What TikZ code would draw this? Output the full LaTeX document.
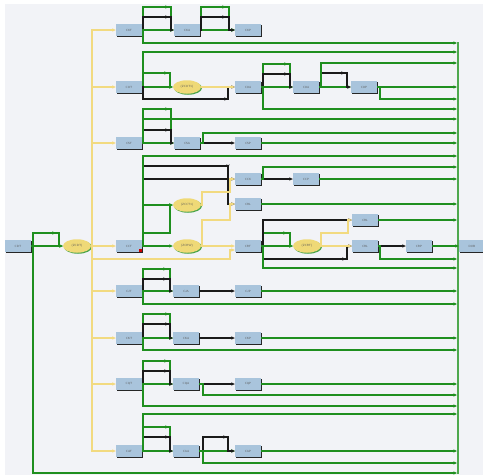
\documentclass[tikz,border=0pt]{standalone}
\usetikzlibrary{arrows.meta,shapes.geometric,shadows,decorations.markings}
\definecolor{bgc}{HTML}{F2F3F7}
\definecolor{boxc}{HTML}{A9C4DC}
\definecolor{grn}{HTML}{1F8F1F}
\definecolor{busg}{HTML}{4EA84E}
\definecolor{ylw}{HTML}{F2DA80}
\definecolor{ellc}{HTML}{EFD977}
\definecolor{blk}{HTML}{1A1A1A}
\tikzset{
  box/.style={rectangle, fill=boxc, minimum width=26pt, minimum height=12pt, inner sep=0pt,
    font=\sffamily\fontsize{3}{3}\selectfont, text=black!65,
    drop shadow={shadow xshift=1.2pt, shadow yshift=-1.4pt, fill=black!85, opacity=1}},
  oval/.style={ellipse, fill=ellc, minimum width=28pt, minimum height=13.5pt, inner sep=0pt,
    font=\sffamily\fontsize{3}{3}\selectfont, text=black!65,
    drop shadow={shadow xshift=1pt, shadow yshift=-1pt, fill=grn!80, opacity=1}},
  tip/.style={-{Stealth[length=3.6pt,width=3.2pt]}},
  gl/.style={draw=grn, line width=1.1pt, tip},
  kl/.style={draw=blk, line width=1.1pt, tip},
  yl/.style={draw=ylw, line width=1.2pt, tip},
  % extra head where a loop turns down again
  turn/.style={postaction={decorate, decoration={markings,
    mark=at position -#1 with {\arrow{Stealth[length=3.6pt,width=3.2pt]}}}}},
}
\begin{document}
\begin{tikzpicture}[x=1pt,y=-1pt]
\fill[white] (0,0) rectangle (483,475);
\fill[bgc] (5,4) rectangle (483,475);
\useasboundingbox (0,0) rectangle (483,475);

% inlets on the collecting bus
\foreach \yy in {43,52,63,87,99,109,119,133,143,156,167,179,204,220,259,268,291,304,338,350,384,395,406,414,451,463,473}
  \coordinate (in\yy) at (457,\yy);
\draw[busg, line width=2pt] (458,42) -- (458,474);

% nodes
\node[box]  (root) at (18,246) {CDT};
\node[oval] (e0)   at (77,246) {(ZCDT)};

\node[box] (r1a) at (129,30) {CXT};
\node[box] (r1b) at (187,30) {CXA};
\node[box] (r1c) at (248,30) {CXP};

\node[box]  (r2a) at (129,87) {COT};
\node[oval] (e2)  at (187,87) {(ZCOT1)};
\node[box]  (r2b) at (248,87) {COA};
\node[box]  (r2c) at (306,87) {COA};
\node[box]  (r2d) at (364,87) {COP};

\node[box] (r3a) at (129,143) {CST};
\node[box] (r3b) at (187,143) {CSA};
\node[box] (r3c) at (248,143) {CSP};

\node[box]  (r4a) at (129,246) {CCT};
\node[oval] (e4a) at (187,205) {(ZCCT1)};
\node[oval] (e4b) at (187,246) {(ZCRW)};
\node[box]  (r4x) at (248,179) {CCX};
\node[box]  (r4y) at (306,179) {CCP};
\node[box]  (r4l) at (248,204) {CRL};
\node[box]  (r4t) at (248,246) {CRT};
\node[oval] (e4c) at (307,246) {(ZCRT)};
\node[box]  (r4u) at (365,220) {CRL};
\node[box]  (r4v) at (365,246) {CRL};
\node[box]  (r4p) at (419,246) {CRP};
\node[box]  (dub) at (472,246) {DUB};
\fill[red!80!black] (138.5,248.5) rectangle (141.5,251.5);

\node[box] (r5a) at (129,291) {CJT};
\node[box] (r5b) at (186,291) {CJA};
\node[box] (r5c) at (248,291) {CJP};

\node[box] (r6a) at (129,338) {CKT};
\node[box] (r6b) at (186,338) {CKA};
\node[box] (r6c) at (248,338) {CKP};

\node[box] (r7a) at (129,384) {CQT};
\node[box] (r7b) at (186,384) {CQA};
\node[box] (r7c) at (248,384) {CQP};

\node[box] (r8a) at (129,451) {CAT};
\node[box] (r8b) at (186,451) {CAA};
\node[box] (r8c) at (248,451) {CAP};

% root
\draw[gl] (root.east) -- (e0.west);
\draw[gl,turn=20pt] (root.east) -- (33,246) -- (33,233) -- (59,233) -- (59,246) -- (e0.west);
\draw[gl] (root.east) -- (33,246) -- (33,473) -- (in473);

% yellow trunk
\foreach \t in {r1a,r2a,r3a,r4a,r5a,r6a,r7a,r8a}
  \draw[yl] (e0.east) -- (92,246) |- (\t.west);
\draw[yl] (e0.east) -- (92,246) |- (230,259) -- (230,250) -- ([yshift=-4pt]r4t.west);

% row 1
\draw[gl] (r1a.east) -- (r1b.west);
\draw[gl,turn=28pt] (r1a.east) -- (143,30) -- (143,7) -- (171,7) -- (171,30) -- (r1b.west);
\draw[kl,turn=18pt] (r1a.east) -- (143,30) -- (143,17) -- (171,17) -- (171,30) -- (r1b.west);
\draw[gl] (r1a.east) -- (143,30) -- (143,43) -- (in43);
\draw[gl] (r1b.east) -- (r1c.west);
\draw[gl,turn=32pt] (r1b.east) -- (201,30) -- (201,7) -- (229,7) -- (229,30) -- (r1c.west);
\draw[kl,turn=22pt] (r1b.east) -- (201,30) -- (201,17) -- (229,17) -- (229,30) -- (r1c.west);

% row 2
\draw[gl] (r2a.east) -- (e2.west);
\draw[gl,turn=19pt] (r2a.east) -- (143,87) -- (143,73) -- (170,73) -- (170,87) -- (e2.west);
\draw[gl] (r2a.east) -- (143,87) -- (143,52) -- (in52);
\draw[kl,turn=19pt] (r2a.east) -- (143,87) -- (143,99) -- (228,99) -- (228,87) -- (r2b.west);
\draw[yl] (e2.east) -- (r2b.west);
\draw[gl] (r2b.east) -- (r2c.west);
\draw[gl,turn=28pt] (r2b.east) -- (263,87) -- (263,64) -- (290,64) -- (290,87) -- (r2c.west);
\draw[kl,turn=18pt] (r2b.east) -- (263,87) -- (263,74) -- (290,74) -- (290,87) -- (r2c.west);
\draw[gl] (r2b.east) -- (263,87) -- (263,109) -- (in109);
\draw[gl] (r2c.east) -- (r2d.west);
\draw[kl,turn=20pt] (r2c.east) -- (321,87) -- (321,73) -- (347,73) -- (347,87) -- (r2d.west);
\draw[gl] (r2c.east) -- (321,87) -- (321,63) -- (in63);
\draw[gl] (r2d.east) -- (in87);
\draw[gl] (r2d.east) -- (380,87) -- (380,99) -- (in99);

% row 3
\draw[gl] (r3a.east) -- (r3b.west);
\draw[gl,turn=39pt] (r3a.east) -- (143,143) -- (143,109) -- (171,109) -- (171,143) -- (r3b.west);
\draw[kl,turn=18pt] (r3a.east) -- (143,143) -- (143,130) -- (171,130) -- (171,143) -- (r3b.west);
\draw[gl] (r3a.east) -- (143,143) -- (143,119) -- (in119);
\draw[kl] (r3b.east) -- (r3c.west);
\draw[gl] (r3b.east) -- (203,143) -- (203,133) -- (in133);
\draw[gl] (r3c.east) -- (in143);

% row 4
\draw[gl] (r4a.east) -- (e4b.west);
\draw[gl] (r4a.east) -- (143,246) -- (143,205) -- (e4a.west);
\draw[gl] (r4a.east) -- (143,246) -- (143,233) -- (170,233) -- (170,205) -- (e4a.west);
\draw[kl] (r4a.east) -- (143,246) -- (143,179) -- (r4x.west);
\draw[kl,turn=43pt] (r4a.east) -- (143,246) -- (143,166) -- (228,166) -- (228,204) -- (r4l.west);
\draw[gl] (r4a.east) -- (143,246) -- (143,156) -- (in156);
\draw[yl] (e4a.east) -- (202,205) -- (202,192) -- (230,192) -- (230,179) -- (r4x.west);
\draw[yl] (e4b.east) -- (202,246) -- (202,220) -- (230,220) -- (230,204) -- (r4l.west);
\draw[yl] (e4b.east) -- (r4t.west);
\draw[kl] (r4x.east) -- (r4y.west);
\draw[gl] (r4x.east) -- (263,179) -- (263,167) -- (in167);
\draw[gl] (r4y.east) -- (in179);
\draw[gl] (r4l.east) -- (in204);
\draw[gl] (r4t.east) -- (e4c.west);
\draw[gl,turn=19pt] (r4t.east) -- (263,246) -- (263,233) -- (290,233) -- (290,246) -- (e4c.west);
\draw[kl] (r4t.east) -- (263,246) -- (263,220) -- (r4u.west);
\draw[kl,turn=19pt] (r4t.east) -- (263,246) -- (263,259) -- (347,259) -- (347,246) -- (r4v.west);
\draw[gl] (r4t.east) -- (263,246) -- (263,268) -- (in268);
\draw[yl] (e4c.east) -- (321,246) -- (321,233) -- (348,233) -- (348,220) -- (r4u.west);
\draw[yl] (e4c.east) -- (r4v.west);
\draw[gl] (r4u.east) -- (in220);
\draw[kl] (r4v.east) -- (r4p.west);
\draw[gl] (r4v.east) -- (380,246) -- (380,259) -- (in259);
\draw[gl] (r4p.east) -- (dub.west);

% row 5
\draw[gl] (r5a.east) -- (r5b.west);
\draw[gl,turn=28pt] (r5a.east) -- (143,291) -- (143,269) -- (170,269) -- (170,291) -- (r5b.west);
\draw[kl,turn=18pt] (r5a.east) -- (143,291) -- (143,279) -- (170,279) -- (170,291) -- (r5b.west);
\draw[gl] (r5a.east) -- (143,291) -- (143,304) -- (in304);
\draw[kl] (r5b.east) -- (r5c.west);
\draw[gl] (r5c.east) -- (in291);

% row 6
\draw[gl] (r6a.east) -- (r6b.west);
\draw[gl,turn=28pt] (r6a.east) -- (143,338) -- (143,314) -- (170,314) -- (170,338) -- (r6b.west);
\draw[kl,turn=18pt] (r6a.east) -- (143,338) -- (143,324) -- (170,324) -- (170,338) -- (r6b.west);
\draw[gl] (r6a.east) -- (143,338) -- (143,350) -- (in350);
\draw[kl] (r6b.east) -- (r6c.west);
\draw[gl] (r6c.east) -- (in338);

% row 7
\draw[gl] (r7a.east) -- (r7b.west);
\draw[gl,turn=28pt] (r7a.east) -- (143,384) -- (143,361) -- (170,361) -- (170,384) -- (r7b.west);
\draw[kl,turn=18pt] (r7a.east) -- (143,384) -- (143,371) -- (170,371) -- (170,384) -- (r7b.west);
\draw[gl] (r7a.east) -- (143,384) -- (143,406) -- (in406);
\draw[kl] (r7b.east) -- (r7c.west);
\draw[gl] (r7b.east) -- (203,384) -- (203,395) -- (in395);
\draw[gl] (r7c.east) -- (in384);

% row 8
\draw[gl] (r8a.east) -- (r8b.west);
\draw[gl,turn=28pt] (r8a.east) -- (143,451) -- (143,427) -- (170,427) -- (170,451) -- (r8b.west);
\draw[kl,turn=18pt] (r8a.east) -- (143,451) -- (143,437) -- (170,437) -- (170,451) -- (r8b.west);
\draw[gl] (r8a.east) -- (143,451) -- (143,414) -- (in414);
\draw[gl] (r8b.east) -- (r8c.west);
\draw[kl,turn=22pt] (r8b.east) -- (203,451) -- (203,437) -- (228,437) -- (228,451) -- (r8c.west);
\draw[gl] (r8b.east) -- (203,451) -- (203,463) -- (in463);
\draw[gl] (r8c.east) -- (in451);
\end{tikzpicture}
\end{document}
